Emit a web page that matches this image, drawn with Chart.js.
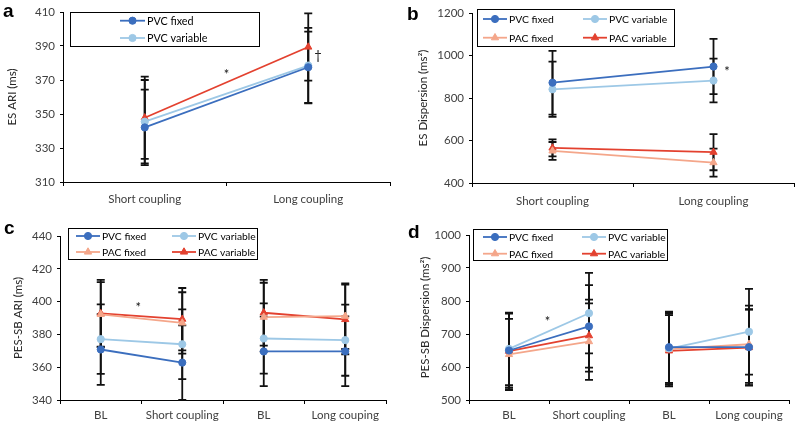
<!DOCTYPE html>
<html>
<head>
<meta charset="utf-8">
<script src="https://cdn.jsdelivr.net/npm/chart.js@4.4.1/dist/chart.umd.min.js"></script>
<style>
  body { margin: 0; background: #fff; width: 800px; height: 425px; position: relative; overflow: hidden; }
  canvas { position: absolute; }
</style>
</head>
<body>
<canvas id="chartA" width="400" height="212" style="left:0;top:0"></canvas>
<canvas id="chartB" width="400" height="212" style="left:400px;top:0"></canvas>
<canvas id="chartC" width="400" height="213" style="left:0;top:212px"></canvas>
<canvas id="chartD" width="400" height="213" style="left:400px;top:212px"></canvas>
<script>
// categories
const couplingLabels = ['Short coupling', 'Long coupling'];
const pesLabels = ['BL', 'Short coupling', 'BL', 'Long couping'];

// a: ES ARI (ms) - mean and SD
const aPvcFixed = [342.1, 377.5];
const aPvcFixedSd = [22.2, 21.0];
const aPvcVariable = [345.5, 378.5];
const aPvcVariableSd = [24.5, 22.2];
const aPacVariable = [347.8, 389.4];
const aPacVariableSd = [24.2, 19.8];

// b: ES Dispersion (ms2)
const bPvcFixed = [872, 948];
const bPvcFixedSd = [150, 130];
const bPvcVariable = [841, 882];
const bPvcVariableSd = [130, 103];
const bPacFixed = [551, 496];
const bPacFixedSd = [42, 66];
const bPacVariable = [565, 545];
const bPacVariableSd = [40, 85];

// c: PES-SB ARI (ms)
const cPvcFixed = [370.8, 362.8, 369.6, 369.7];
const cPvcFixedSd = [21.6, 22.7, 21.2, 21.3];
const cPvcVariable = [377.1, 374.0, 377.5, 376.5];
const cPvcVariableSd = [21.2, 21.3, 21.4, 21.7];
const cPacFixed = [392.2, 387.0, 390.5, 391.1];
const cPacFixedSd = [19.7, 18.7, 21.0, 20.0];
const cPacVariable = [392.8, 389.3, 393.2, 389.1];
const cPacVariableSd = [20.5, 19.0, 20.0, 21.2];

// d: PES-SB Dispersion (ms2)
const dPvcFixed = [650, 723, 660, 660];
const dPvcFixedSd = [112, 125, 108, 115];
const dPvcVariable = [655, 763, 656, 707];
const dPvcVariableSd = [110, 122, 108, 130];
const dPacFixed = [638, 677, 654, 669];
const dPacFixedSd = [108, 116, 108, 117];
const dPacVariable = [648, 695, 649, 659];
const dPacVariableSd = [115, 109, 108, 115];

const colors = {
    pvcFixed: '#3B6EBE',
    pvcVariable: '#9DC8E6',
    pacFixed: '#F4A68A',
    pacVariable: '#E3412F'
};

Chart.defaults.font.family = 'Lato, "Open Sans", sans-serif';

// helper to build one series
function series(label, data, sd, color, shape, broken) {
    const ds = {
        label: label,
        data: data,
        sd: sd,
        borderColor: color,
        backgroundColor: color,
        pointBackgroundColor: color,
        pointBorderColor: color,
        pointStyle: shape,
        pointRadius: shape === 'triangle' ? 4.2 : 3.6,
        borderWidth: 1.8,
        pointBorderWidth: 1
    };
    // no line between "Short coupling" and the second BL
    if (broken) {
        ds.segment = { borderColor: ctx => ctx.p0DataIndex === 1 ? 'rgba(0,0,0,0)' : undefined };
    }
    return ds;
}

// vertical SD bars with caps, under the markers
const errorBars = {
    id: 'errorBars',
    beforeDatasetsDraw(chart) {
        const ctx = chart.ctx;
        const yScale = chart.scales.y;
        ctx.save();
        ctx.strokeStyle = '#111';
        ctx.lineWidth = 1.8;
        chart.data.datasets.forEach((ds, i) => {
            const meta = chart.getDatasetMeta(i);
            meta.data.forEach((pt, j) => {
                const v = ds.data[j];
                const sd = ds.sd[j];
                const top = yScale.getPixelForValue(v + sd);
                const bot = yScale.getPixelForValue(v - sd);
                ctx.beginPath();
                ctx.moveTo(pt.x, top);
                ctx.lineTo(pt.x, bot);
                ctx.moveTo(pt.x - 4, top);
                ctx.lineTo(pt.x + 4, top);
                ctx.moveTo(pt.x - 4, bot);
                ctx.lineTo(pt.x + 4, bot);
                ctx.stroke();
            });
        });
        ctx.restore();
    }
};

// boxed legend like the original figure
const boxLegend = {
    id: 'boxLegend',
    afterDraw(chart, args, opts) {
        if (!opts.box) return;
        const ctx = chart.ctx;
        const [bx, by, bw, bh] = opts.box;
        ctx.save();
        ctx.fillStyle = '#fff';
        ctx.fillRect(bx, by, bw, bh);
        ctx.strokeStyle = '#000';
        ctx.lineWidth = 1;
        ctx.strokeRect(bx + 0.5, by + 0.5, bw, bh);
        ctx.font = opts.fontSize + 'px Lato, "Open Sans", sans-serif';
        ctx.textBaseline = 'middle';
        ctx.textAlign = 'left';
        opts.items.forEach(([dsIndex, col, row]) => {
            const ds = chart.data.datasets[dsIndex];
            const x0 = opts.cols[col];
            const y0 = opts.rows[row];
            ctx.strokeStyle = ds.borderColor;
            ctx.lineWidth = 1.8;
            ctx.beginPath();
            ctx.moveTo(x0, y0);
            ctx.lineTo(x0 + opts.lineLen, y0);
            ctx.stroke();
            ctx.fillStyle = ds.borderColor;
            ctx.lineWidth = 1;
            Chart.helpers.drawPoint(ctx, { pointStyle: ds.pointStyle, radius: ds.pointRadius, borderWidth: 1, rotation: 0 }, x0 + opts.lineLen / 2, y0);
            ctx.fillStyle = '#000';
            ctx.fillText(ds.label, x0 + opts.lineLen + 2, y0 + 0.5);
        });
        ctx.restore();
    }
};

// panel letter and significance marks
const marks = {
    id: 'marks',
    afterDraw(chart, args, opts) {
        const ctx = chart.ctx;
        const xs = chart.scales.x;
        const ys = chart.scales.y;
        ctx.save();
        ctx.fillStyle = '#000';
        ctx.font = 'bold 19px "Liberation Sans", Arial, sans-serif';
        ctx.textBaseline = 'alphabetic';
        ctx.fillText(opts.letter[0], opts.letter[1], opts.letter[2]);
        ctx.fillStyle = '#111';
        ctx.font = '13px Lato, sans-serif';
        ctx.textAlign = 'center';
        ctx.textBaseline = 'middle';
        (opts.items || []).forEach(([text, xi, yv]) => {
            ctx.fillText(text, xs.getPixelForValue(xi), ys.getPixelForValue(yv));
        });
        ctx.restore();
    }
};

function buildChart(id, labels, datasets, cfg) {
    return new Chart(document.getElementById(id), {
        type: 'line',
        data: { labels: labels, datasets: datasets },
        plugins: [errorBars, boxLegend, marks],
        options: {
            responsive: false,
            animation: false,
            layout: { padding: { top: cfg.top, right: cfg.right, left: 0, bottom: 0 } },
            plugins: {
                legend: { display: false },
                tooltip: { enabled: false },
                boxLegend: cfg.legend,
                marks: { letter: cfg.letter, items: cfg.marks }
            },
            scales: {
                x: {
                    offset: true,
                    grid: { offset: true, drawOnChartArea: false, color: '#000', tickLength: 4 },
                    border: { color: '#000', width: 1 },
                    ticks: { color: '#404040', font: { size: 11.5 }, padding: cfg.xPad, maxRotation: 0, autoSkip: false },
                    afterFit: s => { s.height = cfg.xHeight; }
                },
                y: {
                    min: cfg.min,
                    max: cfg.max,
                    ticks: { stepSize: cfg.step, color: '#404040', font: { size: 11.5 }, padding: 5,
                             callback: v => String(v) },
                    grid: { drawOnChartArea: false, color: '#000', tickLength: 3 },
                    border: { color: '#000', width: 1 },
                    title: { display: true, text: cfg.title, color: '#262626', font: { size: 11.5 }, padding: { top: cfg.titlePad, bottom: 0 } },
                    afterFit: s => { s.width = cfg.left; }
                }
            }
        }
    });
}

// a
buildChart('chartA', couplingLabels, [
    series('PVC fixed', aPvcFixed, aPvcFixedSd, colors.pvcFixed, 'circle'),
    series('PVC variable', aPvcVariable, aPvcVariableSd, colors.pvcVariable, 'circle'),
    series('PAC variable', aPacVariable, aPacVariableSd, colors.pacVariable, 'triangle')
], {
    min: 310, max: 410, step: 20, title: 'ES ARI (ms)', titlePad: 5,
    left: 63, top: 12, right: 10, xHeight: 30, xPad: 6,
    letter: ['a', 3, 17],
    legend: { box: [70, 12, 189, 34], cols: [120], rows: [20.7, 38], lineLen: 25, fontSize: 10.8,
              items: [[0, 0, 0], [1, 0, 1]] },
    marks: [['*', 0.5, 373], ['\u2020', 1.06, 384]]
});

// b
buildChart('chartB', couplingLabels, [
    series('PVC fixed', bPvcFixed, bPvcFixedSd, colors.pvcFixed, 'circle'),
    series('PVC variable', bPvcVariable, bPvcVariableSd, colors.pvcVariable, 'circle'),
    series('PAC fixed', bPacFixed, bPacFixedSd, colors.pacFixed, 'triangle'),
    series('PAC variable', bPacVariable, bPacVariableSd, colors.pacVariable, 'triangle')
], {
    min: 400, max: 1200, step: 200, title: 'ES Dispersion (ms\u00b2)', titlePad: 16,
    left: 72, top: 13, right: 6, xHeight: 29, xPad: 7,
    letter: ['b', 7, 20],
    legend: { box: [77, 9, 197, 37], cols: [83, 183], rows: [19, 37.7], lineLen: 24, fontSize: 10.4,
              items: [[0, 0, 0], [1, 1, 0], [2, 0, 1], [3, 1, 1]] },
    marks: [['*', 1.084, 922]]
});

// c
buildChart('chartC', pesLabels, [
    series('PVC fixed', cPvcFixed, cPvcFixedSd, colors.pvcFixed, 'circle', true),
    series('PVC variable', cPvcVariable, cPvcVariableSd, colors.pvcVariable, 'circle', true),
    series('PAC fixed', cPacFixed, cPacFixedSd, colors.pacFixed, 'triangle', true),
    series('PAC variable', cPacVariable, cPacVariableSd, colors.pacVariable, 'triangle', true)
], {
    min: 340, max: 440, step: 20, title: 'PES-SB ARI (ms)', titlePad: 11,
    left: 60, top: 24, right: 14, xHeight: 25, xPad: 4,
    letter: ['c', 4, 22],
    legend: { box: [68, 16, 189, 31], cols: [76, 172], rows: [24, 40], lineLen: 24, fontSize: 10.3,
              items: [[0, 0, 0], [1, 1, 0], [2, 0, 1], [3, 1, 1]] },
    marks: [['*', 0.46, 396]]
});

// d
buildChart('chartD', pesLabels, [
    series('PVC fixed', dPvcFixed, dPvcFixedSd, colors.pvcFixed, 'circle', true),
    series('PVC variable', dPvcVariable, dPvcVariableSd, colors.pvcVariable, 'circle', true),
    series('PAC fixed', dPacFixed, dPacFixedSd, colors.pacFixed, 'triangle', true),
    series('PAC variable', dPacVariable, dPacVariableSd, colors.pacVariable, 'triangle', true)
], {
    min: 500, max: 1000, step: 100, title: 'PES-SB Dispersion (ms\u00b2)', titlePad: 18,
    left: 69, top: 23, right: 11, xHeight: 25, xPad: 4,
    letter: ['d', 8, 26],
    legend: { box: [73, 17, 194, 31], cols: [83, 182], rows: [25, 41.7], lineLen: 24, fontSize: 10.3,
              items: [[0, 0, 0], [1, 1, 0], [2, 0, 1], [3, 1, 1]] },
    marks: [['*', 0.48, 736]]
});
</script>
</body>
</html>
